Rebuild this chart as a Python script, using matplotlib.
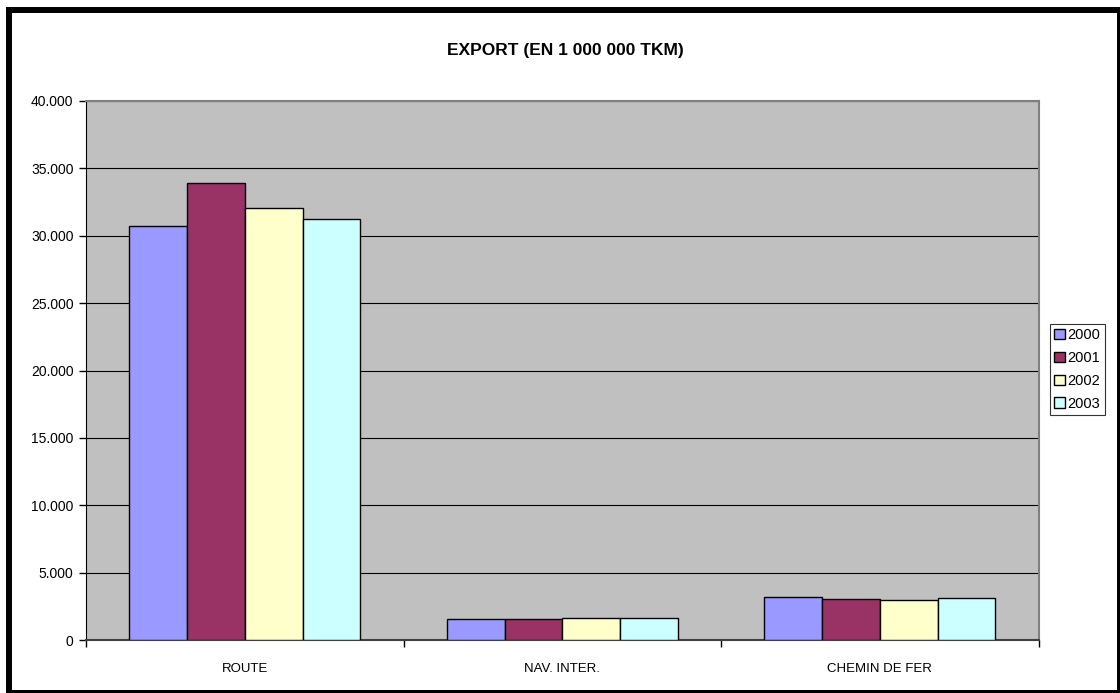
from matplotlib import pyplot as plt
from matplotlib.patches import Rectangle
from matplotlib.ticker import FuncFormatter
import numpy as np

plt.rcParams['font.family'] = ['Liberation Sans', 'DejaVu Sans']

categories = ['ROUTE', 'NAV. INTER.', 'CHEMIN DE FER']
years = ['2000', '2001', '2002', '2003']
v2000 = [30700, 1530, 3210]
v2001 = [33900, 1530, 3040]
v2002 = [32050, 1600, 2940]
v2003 = [31230, 1600, 3130]
colors = ['#9999FF', '#993366', '#FFFFCC', '#CCFFFF']

series = [v2000, v2001, v2002, v2003]

fig = plt.figure(figsize=(11.2, 6.93), dpi=100)
ax = fig.add_axes([86 / 1120, 53 / 693, 952.7 / 1120, 539 / 693])
ax.set_facecolor('#C0C0C0')

x = np.arange(len(categories))
w = 1 / 5.5
for i, (vals, c, yr) in enumerate(zip(series, colors, years)):
    ax.bar(x + (i - 1.5) * w, vals, w, color=c, edgecolor='black', linewidth=1, label=yr, zorder=3)

ax.set_xlim(-0.5, 2.5)
ax.set_ylim(0, 40000)
ax.set_yticks(np.arange(0, 40001, 5000))
ax.yaxis.set_major_formatter(FuncFormatter(lambda v, p: f"{int(v):,}".replace(',', '.')))
ax.grid(axis='y', color='black', linewidth=0.8, zorder=1)
ax.set_axisbelow(True)

ax.set_xticks(x)
ax.set_xticklabels(categories)
ax.set_xticks([-0.5, 0.5, 1.5, 2.5], minor=True)
ax.tick_params(axis='x', which='major', length=0, pad=16.5, labelsize=9.5)
ax.tick_params(axis='x', which='minor', length=5, width=1, direction='out')
ax.tick_params(axis='y', length=5, width=1, direction='out', pad=4, labelsize=10)

for s in ['top', 'right']:
    ax.spines[s].set_color('#808080')
    ax.spines[s].set_linewidth(1.5)
ax.spines['left'].set_color('black')
ax.spines['bottom'].set_color('#404040')
ax.spines['bottom'].set_linewidth(1.5)

fig.text(0.5045, 1 - 51 / 693, 'EXPORT (EN 1 000 000 TKM)', ha='center', va='center',
         fontsize=12.5, fontweight='bold')

leg = fig.legend(loc='center left', bbox_to_anchor=(1050 / 1120, 1 - 369.5 / 693),
                 fontsize=10.5, frameon=True, fancybox=False, shadow=False,
                 handlelength=0.7, handleheight=0.7, handletextpad=0.2,
                 borderpad=0.3, labelspacing=0.6, borderaxespad=0)
leg.get_frame().set_edgecolor('black')
leg.get_frame().set_linewidth(0.8)

fig.patches.append(Rectangle((9 / 1120, 0), 1 - 9 / 1120, 1 - 9.5 / 693, transform=fig.transFigure,
                             fill=False, edgecolor='black', linewidth=4.3, clip_on=False))

fig.savefig('out.png', dpi=100)
